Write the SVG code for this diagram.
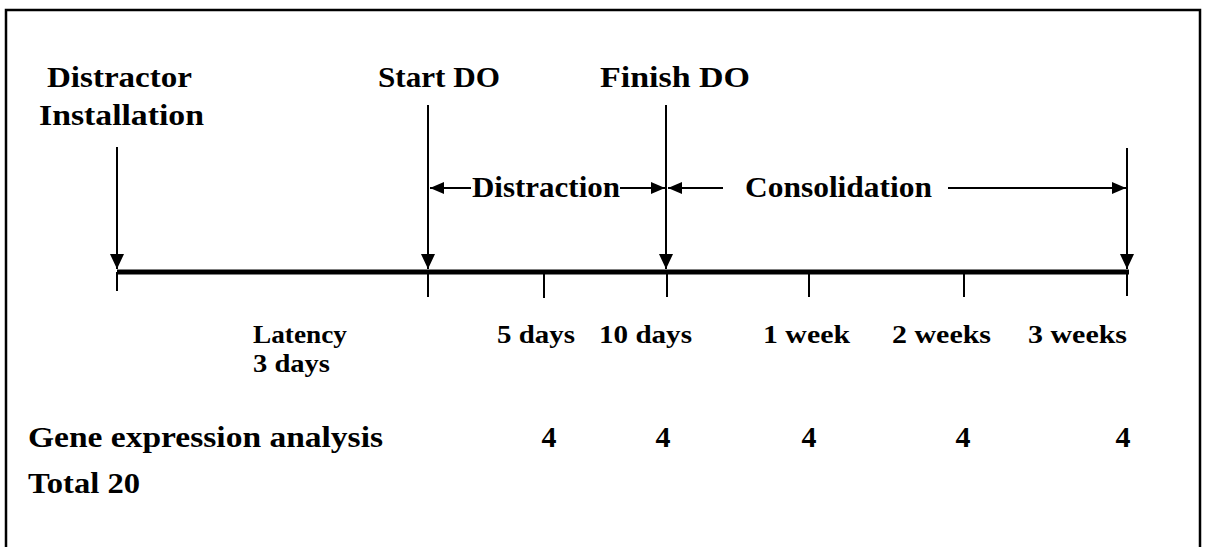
<svg xmlns="http://www.w3.org/2000/svg" width="1206" height="547" viewBox="0 0 1206 547">
<defs>
<style>
.t{font-family:"Liberation Serif","Times New Roman",serif;font-weight:bold;font-size:30px;fill:#000}
.s{font-size:25px}
.ln{stroke:#000;stroke-width:2;fill:none}
.tl{stroke:#000;stroke-width:5;fill:none}
.fr{stroke:#000;stroke-width:2.5;fill:none}
</style>
<marker id="ah" viewBox="0 0 15 14" markerWidth="15" markerHeight="14" refX="15" refY="7" orient="auto" markerUnits="userSpaceOnUse">
<path d="M0,0 L15,7 L0,14 Z" fill="#000"/>
</marker>
<marker id="ahs" viewBox="0 0 14 12" markerWidth="14" markerHeight="12" refX="14" refY="6" orient="auto" markerUnits="userSpaceOnUse">
<path d="M0,0 L14,6 L0,12 Z" fill="#000"/>
</marker>
</defs>
<rect width="1206" height="547" fill="#fff"/>
<path class="fr" d="M6,548 V10 H1200 V548"/>

<g id="connectors">
<line class="tl" x1="117" y1="272" x2="1129" y2="272"/>
<line class="ln" x1="117" y1="272" x2="117" y2="291"/>
<line class="ln" x1="428" y1="272" x2="428" y2="297"/>
<line class="ln" x1="544" y1="272" x2="544" y2="298"/>
<line class="ln" x1="667" y1="272" x2="667" y2="297"/>
<line class="ln" x1="809" y1="272" x2="809" y2="297"/>
<line class="ln" x1="964" y1="272" x2="964" y2="297"/>
<line class="ln" x1="1127" y1="272" x2="1127" y2="296"/>
<line class="ln" x1="117" y1="147" x2="117" y2="269" marker-end="url(#ah)"/>
<line class="ln" x1="428" y1="105" x2="428" y2="269" marker-end="url(#ah)"/>
<line class="ln" x1="666" y1="105" x2="666" y2="269" marker-end="url(#ah)"/>
<line class="ln" x1="1127" y1="148" x2="1127" y2="269" marker-end="url(#ah)"/>
<line class="ln" x1="471" y1="188" x2="430" y2="188" marker-end="url(#ahs)"/>
<line class="ln" x1="620" y1="188" x2="665" y2="188" marker-end="url(#ahs)"/>
<line class="ln" x1="723" y1="188" x2="668" y2="188" marker-end="url(#ahs)"/>
<line class="ln" x1="948" y1="188" x2="1126" y2="188" marker-end="url(#ahs)"/>
</g>

<g id="installation">
<text class="t" x="47" y="87" textLength="145" lengthAdjust="spacingAndGlyphs">Distractor</text>
<text class="t" x="39" y="125" textLength="165" lengthAdjust="spacingAndGlyphs">Installation</text>
</g>
<g id="start-do"><text class="t" x="378" y="87" textLength="122" lengthAdjust="spacingAndGlyphs">Start DO</text></g>
<g id="finish-do"><text class="t" x="600" y="87" textLength="150" lengthAdjust="spacingAndGlyphs">Finish DO</text></g>
<g id="distraction"><text class="t" x="472" y="197" textLength="148" lengthAdjust="spacingAndGlyphs">Distraction</text></g>
<g id="consolidation"><text class="t" x="745" y="197" textLength="187" lengthAdjust="spacingAndGlyphs">Consolidation</text></g>

<g id="latency">
<text class="t s" x="253" y="343" textLength="94" lengthAdjust="spacingAndGlyphs">Latency</text>
<text class="t s" x="253" y="372" textLength="77" lengthAdjust="spacingAndGlyphs">3 days</text>
</g>
<g id="d5"><text class="t s" x="497" y="343" textLength="78" lengthAdjust="spacingAndGlyphs">5 days</text></g>
<g id="d10"><text class="t s" x="599" y="343" textLength="93" lengthAdjust="spacingAndGlyphs">10 days</text></g>
<g id="w1"><text class="t s" x="763" y="343" textLength="87" lengthAdjust="spacingAndGlyphs">1 week</text></g>
<g id="w2"><text class="t s" x="892" y="343" textLength="99" lengthAdjust="spacingAndGlyphs">2 weeks</text></g>
<g id="w3"><text class="t s" x="1028" y="343" textLength="99" lengthAdjust="spacingAndGlyphs">3 weeks</text></g>

<g id="gene">
<text class="t" x="28" y="447" textLength="355" lengthAdjust="spacingAndGlyphs">Gene expression analysis</text>
<text class="t" x="549" y="447" text-anchor="middle">4</text>
<text class="t" x="663" y="447" text-anchor="middle">4</text>
<text class="t" x="809" y="447" text-anchor="middle">4</text>
<text class="t" x="963" y="447" text-anchor="middle">4</text>
<text class="t" x="1123" y="447" text-anchor="middle">4</text>
</g>
<g id="total"><text class="t" x="28" y="493" textLength="112" lengthAdjust="spacingAndGlyphs">Total 20</text></g>
</svg>
